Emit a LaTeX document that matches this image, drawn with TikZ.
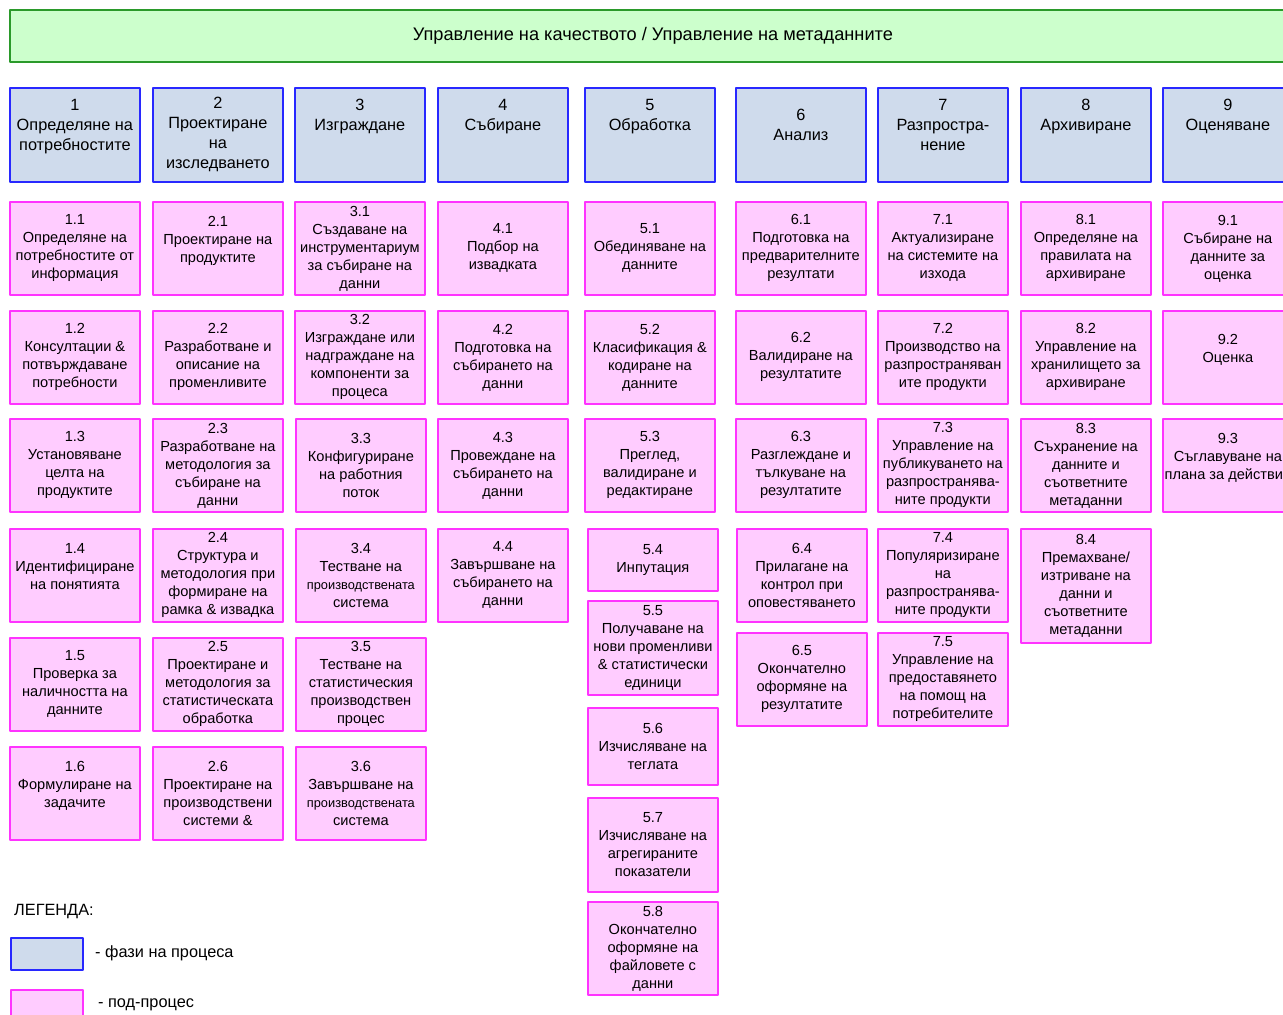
\documentclass[tikz,border=0pt]{standalone}
\usepackage{fontspec}
\setmainfont{Liberation Sans}
\definecolor{qmfill}{HTML}{CCFFCC}
\definecolor{qmline}{HTML}{2A9A2A}
\definecolor{phasefill}{HTML}{CFDBEC}
\definecolor{phaseline}{HTML}{2828FF}
\definecolor{subfill}{HTML}{FFCCFF}
\definecolor{subline}{HTML}{FF33FF}
\newcommand{\smallword}[1]{{\fontsize{12.8}{18}\selectfont #1}}
\begin{document}
\begin{tikzpicture}[x=1pt,y=-1pt,line join=round,font=\fontsize{16.3}{20}\selectfont,
	phasebox/.style={draw=phaseline,fill=phasefill,line width=1.8pt,anchor=north west,minimum width=130pt,minimum height=94pt,align=center,inner sep=0pt},
	subbox/.style={draw=subline,fill=subfill,line width=1.8pt,anchor=north west,minimum width=130pt,align=center,inner sep=0pt,font=\fontsize{14.6}{18}\selectfont}]
	\useasboundingbox (0,0) rectangle (1283,1015);
	\clip (0,0) rectangle (1283,1015);
	\node[draw=qmline,fill=qmfill,line width=1.8pt,anchor=north west,minimum width=1286pt,minimum height=52pt,font=\fontsize{18.2}{22}\selectfont] (qm) at (9,9) {Управление на качеството / Управление на метаданните};
	% phases
	\foreach \n/\x/\t in {1/9/{Определяне на\\потребностите\\~},2/152/{Проектиране\\на\\изследването},3/294/{Изграждане\\~\\~},4/437/{Събиране\\~\\~},5/584/{Обработка\\~\\~},6/735/{Анализ\\~},7/877/{Разпростра-\\нение\\~},8/1020/{Архивиране\\~\\~},9/1162/{Оценяване\\~\\~}}
		\node[phasebox] (p\n) at (\x,87) {\n\\\t};
	% sub-processes
	\foreach \c/\r/\x/\y/\h/\t in {
		1/1/9/201/93/{Определяне на\\потребностите от\\информация},
		1/2/9/310/93/{Консултации \&\\потвърждаване\\потребности},
		1/3/9/418/93/{Установяване\\целта на\\продуктите},
		1/4/9/528/93/{Идентифициране\\на понятията\\~},
		1/5/9/637/93/{Проверка за\\наличността на\\данните},
		1/6/9/746/93/{Формулиране на\\задачите\\~},
		2/1/152/201/93/{Проектиране на\\продуктите\\~},
		2/2/152/310/93/{Разработване и\\описание на\\променливите},
		2/3/152/418/93/{Разработване на\\методология за\\събиране на\\данни},
		2/4/152/528/93/{Структура и\\методология при\\формиране на\\рамка \& извадка},
		2/5/152/637/93/{Проектиране и\\методология за\\статистическата\\обработка},
		2/6/152/746/93/{Проектиране на\\производствени\\системи \&},
		3/1/294/201/93/{Създаване на\\инструментариум\\за събиране на\\данни},
		3/2/294/310/93/{Изграждане или\\надграждане на\\компоненти за\\процеса},
		3/3/295/418/93/{Конфигуриране\\на работния\\поток},
		3/4/295/528/93/{Тестване на\\\smallword{производствената}\\система},
		3/5/295/637/93/{Тестване на\\статистическия\\производствен\\процес},
		3/6/295/746/93/{Завършване на\\\smallword{производствената}\\система},
		4/1/437/201/93/{Подбор на\\извадката},
		4/2/437/310/93/{Подготовка на\\събирането на\\данни},
		4/3/437/418/93/{Провеждане на\\събирането на\\данни},
		4/4/437/528/93/{Завършване на\\събирането на\\данни},
		5/1/584/201/93/{Обединяване на\\данните},
		5/2/584/310/93/{Класификация \&\\кодиране на\\данните},
		5/3/584/418/93/{Преглед,\\валидиране и\\редактиране},
		5/4/587/528/62/{Инпутация},
		5/5/587/600/94/{Получаване на\\нови променливи\\\& статистически\\единици},
		5/6/587/707/77/{Изчисляване на\\теглата},
		5/7/587/797/94/{Изчисляване на\\агрегираните\\показатели},
		5/8/587/901/93/{Окончателно\\оформяне на\\файловете с\\данни},
		6/1/735/201/93/{Подготовка на\\предварителните\\резултати},
		6/2/735/310/93/{Валидиране на\\резултатите},
		6/3/735/418/93/{Разглеждане и\\тълкуване на\\резултатите},
		6/4/736/528/93/{Прилагане на\\контрол при\\оповестяването},
		6/5/736/632/93/{Окончателно\\оформяне на\\резултатите},
		7/1/877/201/93/{Актуализиране\\на системите на\\изхода},
		7/2/877/310/93/{Производство на\\разпространяван\\ите продукти},
		7/3/877/418/93/{Управление на\\публикуването на\\разпространява-\\ните продукти},
		7/4/877/528/93/{Популяризиране\\на\\разпространява-\\ните продукти},
		7/5/877/632/93/{Управление на\\предоставянето\\на помощ на\\потребителите},
		8/1/1020/201/93/{Определяне на\\правилата на\\архивиране},
		8/2/1020/310/93/{Управление на\\хранилището за\\архивиране},
		8/3/1020/418/93/{Съхранение на\\данните и\\съответните\\метаданни},
		8/4/1020/528/114/{Премахване/\\изтриване на\\данни и\\съответните\\метаданни},
		9/1/1162/201/93/{Събиране на\\данните за\\оценка},
		9/2/1162/310/93/{Оценка\\~},
		9/3/1162/418/93/{Съглавуване на\\плана за действие\\~}}
		\node[subbox,minimum height=\h pt] (s\c\r) at (\x,\y) {\c.\r\\\t};
	% legend
	\node[anchor=west,inner sep=0pt] (leg) at (14,912) {ЛЕГЕНДА:};
	\node[phasebox,minimum width=72pt,minimum height=32pt] (legphase) at (10,937) {};
	\node[anchor=west,inner sep=0pt] (legphasetxt) at (95,953) {- фази на процеса};
	\node[subbox,minimum width=72pt,minimum height=32pt] (legsub) at (10,989) {};
	\node[anchor=west,inner sep=0pt] (legsubtxt) at (98,1005) {- под-процес};
\end{tikzpicture}
\end{document}
